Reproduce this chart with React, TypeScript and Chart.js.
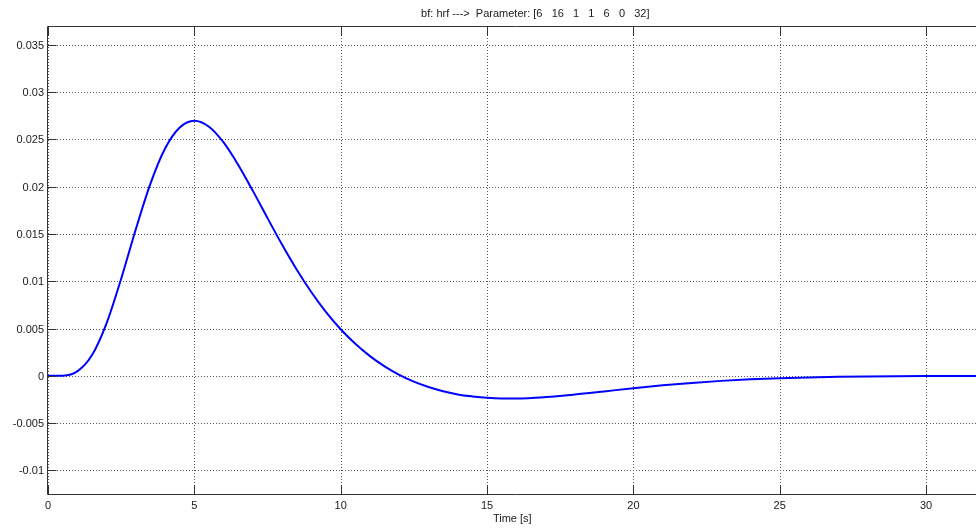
import { useEffect, useRef } from "react";
import { Chart, registerables } from "chart.js";

Chart.register(...registerables);

// Canonical haemodynamic response sampled over the 32 s window
const timeSec = [
  0, 0.5, 1, 1.5, 2, 2.5, 3, 3.5, 4, 4.5, 5, 5.5, 6, 6.5, 7, 7.5, 8, 8.5, 9, 9.5,
  10, 10.5, 11, 11.5, 12, 12.5, 13, 13.5, 14, 14.5, 15, 15.5, 16, 17, 18, 19, 20,
  21, 22, 23, 24, 25, 26, 27, 28, 29, 30, 31, 32,
];
const hrfValues = [
  0, 0.00002, 0.00047, 0.00217, 0.00555, 0.01027, 0.0155, 0.02033, 0.02404,
  0.02627, 0.02699, 0.02635, 0.02468, 0.0223, 0.01956, 0.01668, 0.01386, 0.01122,
  0.00884, 0.00674, 0.00493, 0.00339, 0.00208, 0.001, 0.0001, -0.00062, -0.00119,
  -0.00163, -0.00197, -0.00218, -0.00233, -0.00239, -0.00239, -0.00225, -0.00198,
  -0.00165, -0.00131, -0.00101, -0.00075, -0.000535, -0.000374, -0.000253,
  -0.000168, -0.000109, -0.00007, -0.000044, -0.000027, -0.000017, -0.00001,
];

const xTickValues = [0, 5, 10, 15, 20, 25, 30];
const xTickLabels = ["0", "5", "10", "15", "20", "25", "30"];
const yTickValues = [-0.01, -0.005, 0, 0.005, 0.01, 0.015, 0.02, 0.025, 0.03, 0.035];
const yTickLabels = ["-0.01", "-0.005", "0", "0.005", "0.01", "0.015", "0.02", "0.025", "0.03", "0.035"];

const xMin = 0;
const xMax = 32;
const yMin = -0.0125;
const yMax = 0.037;

const titleText = "bf: hrf --->  Parameter: [6   16   1   1   6   0   32]";
const xAxisTitle = "Time [s]";

const FONT = '11px "Liberation Sans", Arial, sans-serif';
const TEXT_COLOR = "#1a1a1a";
const AXIS_COLOR = "#333333";
const GRID_COLOR = "#555555";
const TICK_LEN = 9;

const snap = (v: number) => Math.round(v) + 0.5;

// MATLAB-style axes: dotted grid, boxed frame with inward ticks
const matlabAxes = {
  id: "matlabAxes",
  beforeDatasetsDraw(chart: any) {
    const { ctx, chartArea, scales } = chart;
    const { left, right, top, bottom } = chartArea;
    ctx.save();
    ctx.strokeStyle = GRID_COLOR;
    ctx.lineWidth = 1;
    ctx.setLineDash([1, 2]);
    ctx.beginPath();
    xTickValues.forEach((v) => {
      const x = snap(scales.x.getPixelForValue(v));
      ctx.moveTo(x, top);
      ctx.lineTo(x, bottom);
    });
    yTickValues.forEach((v) => {
      const y = snap(scales.y.getPixelForValue(v));
      ctx.moveTo(left, y);
      ctx.lineTo(right, y);
    });
    ctx.stroke();
    ctx.restore();
  },
  afterDatasetsDraw(chart: any) {
    const { ctx, chartArea, scales } = chart;
    const { left, right, top, bottom } = chartArea;
    const L = snap(left) - 1;
    const R = snap(right);
    const T = snap(top);
    const B = snap(bottom);
    ctx.save();
    ctx.strokeStyle = AXIS_COLOR;
    ctx.lineWidth = 1;
    ctx.setLineDash([]);
    ctx.beginPath();
    ctx.rect(L, T, R - L, B - T);
    xTickValues.forEach((v) => {
      const x = snap(scales.x.getPixelForValue(v));
      ctx.moveTo(x, B);
      ctx.lineTo(x, B - TICK_LEN);
      ctx.moveTo(x, T);
      ctx.lineTo(x, T + TICK_LEN);
    });
    yTickValues.forEach((v) => {
      const y = snap(scales.y.getPixelForValue(v));
      ctx.moveTo(L, y);
      ctx.lineTo(L + TICK_LEN, y);
      ctx.moveTo(R, y);
      ctx.lineTo(R - TICK_LEN, y);
    });
    ctx.stroke();

    ctx.fillStyle = TEXT_COLOR;
    ctx.font = FONT;
    ctx.textBaseline = "alphabetic";
    ctx.textAlign = "center";
    xTickValues.forEach((v, i) => {
      const x = scales.x.getPixelForValue(v);
      ctx.fillText(xTickLabels[i], x, bottom + 15);
    });
    ctx.textAlign = "right";
    yTickValues.forEach((v, i) => {
      const y = scales.y.getPixelForValue(v);
      ctx.fillText(yTickLabels[i], left - 4, y + 4);
    });
    ctx.textAlign = "center";
    const mid = (left + right) / 2;
    ctx.fillText(xAxisTitle, mid - 4, bottom + 28);
    ctx.fillText(titleText, mid + 19, top - 9);
    ctx.restore();
  },
};

export default function App() {
  const canvasRef = useRef<HTMLCanvasElement | null>(null);

  useEffect(() => {
    const canvas = canvasRef.current;
    if (!canvas) return;
    const points = timeSec.map((t, i) => ({ x: t, y: hrfValues[i] }));
    const chart = new Chart(canvas, {
      type: "line",
      data: {
        datasets: [
          {
            data: points,
            borderColor: "#0000ff",
            borderWidth: 2,
            pointRadius: 0,
            cubicInterpolationMode: "monotone",
            fill: false,
          },
        ],
      },
      options: {
        responsive: false,
        devicePixelRatio: 1,
        animation: false,
        layout: { padding: { left: 48, top: 26, right: 5.4, bottom: 34 } },
        scales: {
          x: { type: "linear", min: xMin, max: xMax, display: false },
          y: { type: "linear", min: yMin, max: yMax, display: false },
        },
        plugins: {
          legend: { display: false },
          tooltip: { enabled: false },
          title: { display: false },
        },
      },
      plugins: [matlabAxes],
    });
    return () => chart.destroy();
  }, []);

  return (
    <div
      style={{
        position: "fixed",
        left: 0,
        top: 0,
        width: 990,
        height: 528,
        overflow: "hidden",
        background: "#ffffff",
      }}
    >
      <canvas ref={canvasRef} width={990} height={528} style={{ display: "block" }} />
    </div>
  );
}
